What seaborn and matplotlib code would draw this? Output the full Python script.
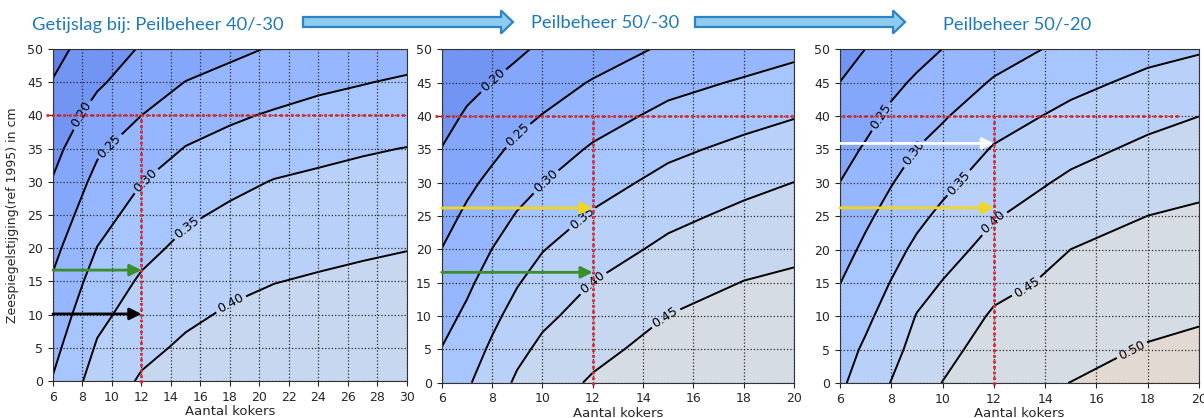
import numpy as np
import matplotlib
matplotlib.use("Agg")
import matplotlib.pyplot as plt
from matplotlib.colors import Normalize
from matplotlib.patches import FancyArrow
import seaborn as sns

# grid of the calculations: zeespiegelstijging (cm) and aantal kokers
y_nodes = [0, 5, 10, 15, 20, 25, 30, 35, 40, 45, 50]
x_nodes_4030 = [6, 9, 12, 15, 18, 21, 24, 27, 30]
x_nodes_50 = [6, 7, 8, 9, 10, 12, 15, 18, 20]

# getijslag (m), one list per aantal kokers, from y=0 up to y=50
z_4030 = [
    [0.303, 0.287, 0.271, 0.255, 0.238, 0.220, 0.203, 0.186, 0.169, 0.152, 0.136],
    [0.372, 0.355, 0.338, 0.320, 0.301, 0.282, 0.263, 0.243, 0.218, 0.193, 0.173],
    [0.405, 0.389, 0.372, 0.356, 0.337, 0.318, 0.299, 0.275, 0.250, 0.225, 0.204],
    [0.421, 0.407, 0.392, 0.377, 0.361, 0.343, 0.323, 0.302, 0.277, 0.251, 0.223],
    [0.431, 0.418, 0.405, 0.390, 0.374, 0.358, 0.339, 0.316, 0.293, 0.266, 0.239],
    [0.439, 0.426, 0.413, 0.399, 0.384, 0.368, 0.352, 0.329, 0.305, 0.278, 0.254],
    [0.442, 0.429, 0.417, 0.404, 0.390, 0.374, 0.358, 0.339, 0.315, 0.290, 0.262],
    [0.444, 0.432, 0.420, 0.408, 0.395, 0.379, 0.363, 0.346, 0.322, 0.298, 0.271],
    [0.444, 0.433, 0.422, 0.410, 0.399, 0.383, 0.367, 0.351, 0.329, 0.306, 0.279],
]
z_5030 = [
    [0.3167, 0.3012, 0.2842, 0.2673, 0.2505, 0.2339, 0.2175, 0.2011, 0.1848, 0.1685, 0.1527],
    [0.344, 0.3262, 0.3085, 0.2913, 0.2745, 0.2577, 0.2405, 0.2229, 0.2053, 0.1875, 0.1696],
    [0.3754, 0.3578, 0.3388, 0.3196, 0.3004, 0.2804, 0.2604, 0.2405, 0.2206, 0.2008, 0.1808],
    [0.4077, 0.3878, 0.3675, 0.347, 0.3252, 0.3035, 0.2816, 0.2596, 0.2375, 0.2152, 0.1927],
    [0.4292, 0.4104, 0.39, 0.3692, 0.348, 0.3235, 0.299, 0.2752, 0.2514, 0.2294, 0.2073],
    [0.455, 0.4382, 0.4195, 0.4007, 0.378, 0.355, 0.3305, 0.3055, 0.2795, 0.2532, 0.2263],
    [0.48, 0.4663, 0.4507, 0.4306, 0.4105, 0.3886, 0.3648, 0.3397, 0.3127, 0.2853, 0.2575],
    [0.4926, 0.4788, 0.4657, 0.4512, 0.431, 0.4106, 0.3877, 0.362, 0.3344, 0.305, 0.275],
    [0.4963, 0.4832, 0.4711, 0.4581, 0.4404, 0.4204, 0.4004, 0.3742, 0.3476, 0.3182, 0.2886],
]
z_5020 = [
    [0.342, 0.331, 0.316, 0.2995, 0.283, 0.267, 0.2505, 0.234, 0.217, 0.2005, 0.184],
    [0.3725, 0.357, 0.341, 0.325, 0.309, 0.292, 0.273, 0.255, 0.2365, 0.218, 0.2005],
    [0.4016, 0.385, 0.3685, 0.352, 0.334, 0.316, 0.298, 0.279, 0.259, 0.239, 0.218],
    [0.430, 0.4165, 0.4025, 0.381, 0.360, 0.3395, 0.320, 0.301, 0.279, 0.257, 0.2345],
    [0.451, 0.4346, 0.418, 0.402, 0.381, 0.360, 0.3385, 0.317, 0.2955, 0.273, 0.2505],
    [0.486, 0.472, 0.456, 0.4365, 0.417, 0.3966, 0.375, 0.354, 0.3295, 0.3045, 0.280],
    [0.5005, 0.4875, 0.475, 0.4625, 0.4502, 0.4295, 0.409, 0.3865, 0.3625, 0.3367, 0.312],
    [0.5155, 0.503, 0.490, 0.4767, 0.4635, 0.4503, 0.430, 0.410, 0.3873, 0.362, 0.335],
    [0.521, 0.509, 0.496, 0.483, 0.470, 0.457, 0.440, 0.420, 0.3998, 0.373, 0.3457],
]

levels = [0.10, 0.15, 0.20, 0.25, 0.30, 0.35, 0.40, 0.45, 0.50, 0.55]

titles = ["Getijslag bij: Peilbeheer 40/-30", "Peilbeheer 50/-30", "Peilbeheer 50/-20"]

# the scenario arrows (zeespiegelstijging at 12 kokers) and the 40 cm / 12 kokers lines
arrow_y_4030 = [16.7, 10.1]
arrow_y_5030 = [26.2, 16.55]
arrow_y_5020 = [35.9, 26.25]
target_rise = 40
target_kokers = 12

panels = [
    dict(x=x_nodes_4030, z=z_4030, title=titles[0], arrows=arrow_y_4030,
         arrow_colors=["#3b8f2b", "black"],
         lab_levels=[0.20, 0.25, 0.30, 0.35, 0.40],
         lab_pos=[(8.0, 40.0), (10.0, 35.0), (12.35, 30.0), (14.9, 23.7), (18.0, 11.9)],
         red_x=(5.55, 29.9), pos=[0.0440, 0.0885, 0.2940, 0.7943]),
    dict(x=x_nodes_50, z=z_5030, title=titles[1], arrows=arrow_y_5030,
         arrow_colors=["#f2d51e", "#3b8f2b"],
         lab_levels=[0.20, 0.25, 0.30, 0.35, 0.40, 0.45],
         lab_pos=[(8.05, 45.3), (9.0, 37.2), (10.17, 30.0), (11.63, 24.4), (12.03, 14.9), (14.87, 9.9)],
         red_x=(5.73, 19.97), pos=[0.3669, 0.0845, 0.2926, 0.7976]),
    dict(x=x_nodes_50, z=z_5020, title=titles[2], arrows=arrow_y_5020,
         arrow_colors=["white", "#f2d51e"],
         lab_levels=[0.25, 0.30, 0.35, 0.40, 0.45, 0.50],
         lab_pos=[(7.62, 39.9), (8.79, 34.6), (10.6, 30.1), (11.97, 24.1), (13.24, 14.6), (17.36, 5.1)],
         red_x=(6.07, 19.24), pos=[0.6977, 0.0837, 0.2982, 0.7983]),
]

sns.set_style("ticks")
plt.rcParams['font.family'] = ['DejaVu Sans']

cmap = sns.color_palette("coolwarm", as_cmap=True)
norm = Normalize(vmin=0.0, vmax=1.0)

fig = plt.figure(figsize=(12.04, 4.18), dpi=100)

for i, p in enumerate(panels):
    ax = fig.add_axes(p['pos'])
    X, Y = np.meshgrid(p['x'], y_nodes)
    Z = np.array(p['z']).T

    ax.contourf(X, Y, Z, levels=levels, cmap=cmap, norm=norm)
    # unlabelled lines first, then the labelled ones (clabel needs its own set)
    other = [lv for lv in levels if lv not in p['lab_levels']]
    ax.contour(X, Y, Z, levels=other, colors='black', linewidths=1.4)
    cs = ax.contour(X, Y, Z, levels=p['lab_levels'], colors='black', linewidths=1.4)
    ax.clabel(cs, manual=p['lab_pos'], inline=True, inline_spacing=3,
              fontsize=9, fmt='%.2f')

    ax.set_xlim(p['x'][0], p['x'][-1])
    ax.set_ylim(0, 50)
    ax.set_xticks(np.arange(p['x'][0], p['x'][-1] + 1, 2))
    ax.set_yticks(np.arange(0, 51, 5))
    # grid on top of the filled bands, below the contour lines
    ax.set_axisbelow('line')
    ax.grid(True, color='#2b2b2b', linestyle=':', linewidth=0.9)
    ax.tick_params(labelsize=9, colors='#262626', length=3.5)
    for s in ax.spines.values():
        s.set_color('#333333')
    ax.set_xlabel('Aantal kokers', fontsize=9.5, labelpad=1, color='#262626')
    if i == 0:
        ax.set_ylabel('Zeespiegelstijging(ref 1995) in cm', fontsize=9, labelpad=6,
                      color='#262626')

    # red dotted lines for 40 cm and 12 kokers
    red = dict(color='#e3262e', linestyle=(0, (1, 1)), linewidth=2, clip_on=False, zorder=5)
    ax.plot(p['red_x'], [target_rise, target_rise], **red)
    ax.plot([target_kokers, target_kokers], [-0.3, target_rise], **red)

    for yv, c in zip(p['arrows'], p['arrow_colors']):
        ax.annotate('', xy=(target_kokers, yv), xytext=(p['x'][0], yv),
                    arrowprops=dict(arrowstyle='-|>,head_length=0.7,head_width=0.35',
                                    color=c, lw=2, shrinkA=0, shrinkB=0), zorder=6)

# slide header: titles and the big blue arrows, in pixel coordinates
top = fig.add_axes([0, 0, 1, 1], zorder=10)
top.set_xlim(0, 1204)
top.set_ylim(418, 0)
top.axis('off')
top.patch.set_alpha(0)

title_pos = [(32, 25), (531, 23), (943, 24)]
for (tx, ty), t in zip(title_pos, titles):
    top.text(tx, ty, t, ha='left', va='center', color='#1f7ab9', fontsize=13.2,
             family=['Lato', 'DejaVu Sans'])

for x0 in [303, 695]:
    top.add_patch(FancyArrow(x0, 22, 210, 0, width=10, head_width=23, head_length=12,
                             length_includes_head=True, facecolor='#8fcbef',
                             edgecolor='#2a84c6', linewidth=1.6))

fig.savefig('out.png', dpi=100)
